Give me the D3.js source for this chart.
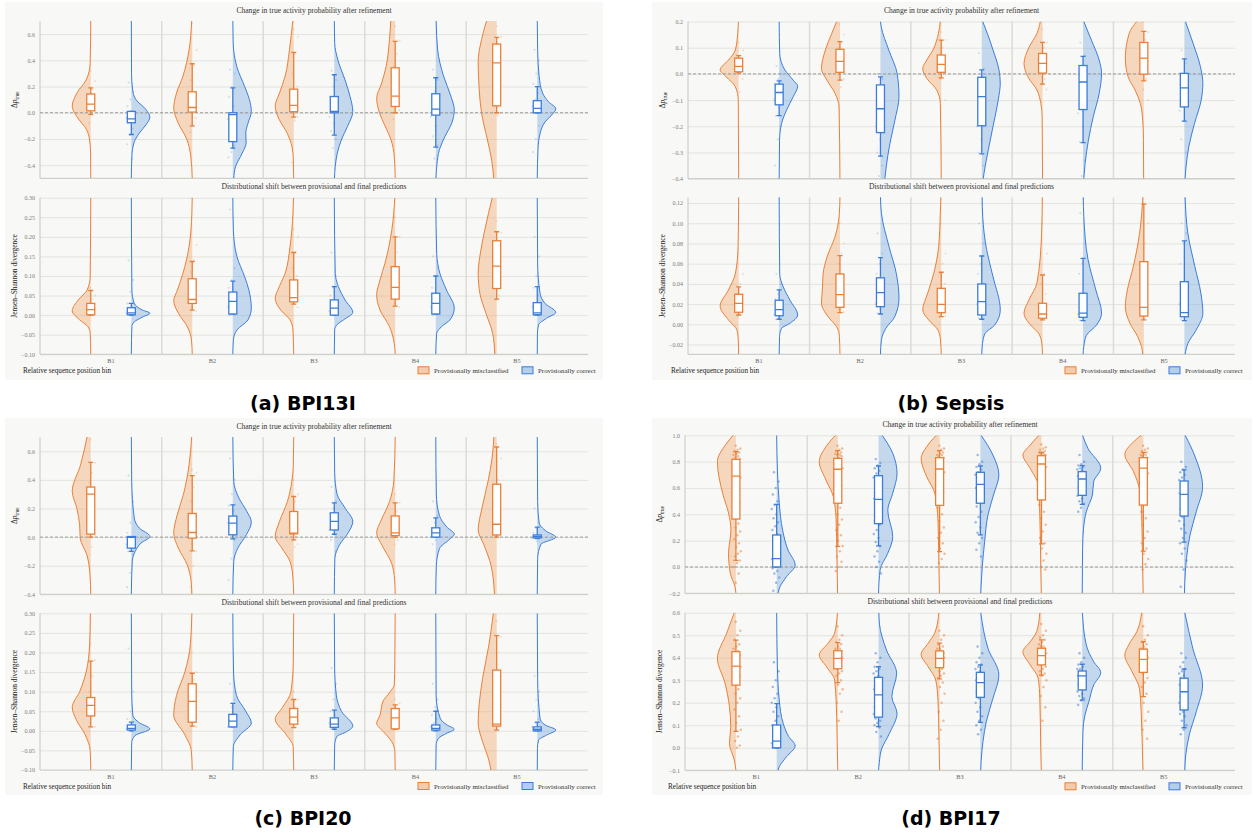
<!DOCTYPE html>
<html><head><meta charset="utf-8">
<script src="https://cdn.jsdelivr.net/npm/d3@7"></script>
<style>body{margin:0;background:#fff}svg{display:block}</style>
</head><body><script>
// ---------------- DATA ----------------
const datasets = ["BPI13I", "Sepsis", "BPI20", "BPI17"];
const bins = ["B1", "B2", "B3", "B4", "B5"];
const groups = ["Provisionally misclassified", "Provisionally correct"];
const titles = ["Change in true activity probability after refinement", "Distributional shift between provisional and final predictions"];
const xTitle = "Relative sequence position bin";

// axis domains / tick values
const a_dp_domain = [-0.5, 0.7], a_dp_ticks = [-0.4, -0.2, 0, 0.2, 0.4, 0.6];
const a_js_domain = [-0.1, 0.3], a_js_ticks = [-0.1, -0.05, 0, 0.05, 0.1, 0.15, 0.2, 0.25, 0.3];
const b_dp_domain = [-0.4, 0.2], b_dp_ticks = [-0.4, -0.3, -0.2, -0.1, 0, 0.1, 0.2];
const b_js_domain = [-0.0297, 0.1257], b_js_ticks = [-0.02, 0, 0.02, 0.04, 0.06, 0.08, 0.1, 0.12];
const c_dp_domain = [-0.4, 0.7], c_dp_ticks = [-0.4, -0.2, 0, 0.2, 0.4, 0.6];
const c_js_domain = [-0.1, 0.3], c_js_ticks = [-0.1, -0.05, 0, 0.05, 0.1, 0.15, 0.2, 0.25, 0.3];
const d_dp_domain = [-0.2, 1.0], d_dp_ticks = [-0.2, 0, 0.2, 0.4, 0.6, 0.8, 1.0];
const d_js_domain = [-0.1, 0.6], d_js_ticks = [-0.1, 0, 0.1, 0.2, 0.3, 0.4, 0.5, 0.6];

// box stats per bin: [whiskerLow, q1, median, q3, whiskerHigh]
const a_dp_box_mis = [[-0.013,0.015,0.066,0.143,0.19],[-0.10,0.005,0.04,0.16,0.374],[-0.033,0.008,0.056,0.18,0.46],[0.0,0.048,0.127,0.343,0.545],[0.0,0.053,0.38,0.524,0.575]];
const a_dp_box_cor = [[-0.166,-0.076,-0.046,0.01,0.01],[-0.27,-0.22,-0.015,0.0,0.19],[-0.17,0.0,0.01,0.124,0.29],[-0.262,-0.018,0.028,0.145,0.267],[0.0,0.0,0.033,0.092,0.2]];
const a_js_box_mis = [[0.0,0.001,0.014,0.030,0.063],[0.013,0.03,0.04,0.093,0.137],[0.028,0.034,0.045,0.09,0.16],[0.023,0.041,0.071,0.124,0.20],[0.041,0.068,0.125,0.19,0.213]];
const a_js_box_cor = [[0.0,0.001,0.006,0.019,0.03],[0.003,0.003,0.035,0.059,0.087],[0.0,0.0,0.018,0.039,0.073],[0.003,0.003,0.03,0.056,0.1],[0.0,0.001,0.006,0.032,0.073]];
const b_dp_box_mis = [[0.004,0.008,0.029,0.06,0.07],[-0.024,0.006,0.048,0.094,0.123],[-0.015,0.006,0.036,0.072,0.129],[-0.039,0.003,0.04,0.078,0.12],[-0.027,-0.001,0.06,0.12,0.162]];
const b_dp_box_cor = [[-0.159,-0.118,-0.071,-0.039,-0.027],[-0.314,-0.224,-0.133,-0.042,-0.011],[-0.305,-0.198,-0.087,-0.013,0.015],[-0.262,-0.136,-0.031,0.032,0.067],[-0.18,-0.126,-0.053,0.002,0.057]];
const b_js_box_mis = [[0.0092,0.0119,0.0208,0.0297,0.037],[0.0115,0.0168,0.0293,0.0498,0.068],[0.0075,0.0115,0.0198,0.0356,0.0515],[0.0043,0.006,0.0102,0.0208,0.0488],[0.0043,0.0082,0.0168,0.062,0.119]];
const b_js_box_cor = [[0.005,0.0085,0.0145,0.0238,0.034],[0.0102,0.0174,0.0313,0.046,0.066],[0.005,0.0092,0.0224,0.0399,0.0676],[0.0036,0.0069,0.011,0.0307,0.0653],[0.0036,0.0075,0.0115,0.0422,0.0825]];
const c_dp_box_mis = [[0.0,0.021,0.3,0.35,0.522],[-0.096,-0.007,0.032,0.165,0.43],[-0.019,0.023,0.028,0.179,0.284],[0.0,0.01,0.03,0.148,0.24],[0.0,0.015,0.09,0.37,0.63]];
const c_dp_box_cor = [[-0.1,-0.077,-0.002,0.004,0.004],[-0.012,0.016,0.098,0.147,0.226],[0.02,0.05,0.11,0.17,0.24],[0.0,0.0,0.03,0.065,0.135],[-0.01,-0.005,0.005,0.015,0.07]];
const c_js_box_mis = [[0.01,0.038,0.065,0.085,0.178],[0.012,0.022,0.075,0.12,0.147],[0.008,0.017,0.035,0.057,0.08],[0.004,0.005,0.033,0.057,0.066],[0.002,0.012,0.017,0.155,0.243]];
const c_js_box_cor = [[0.0,0.002,0.006,0.015,0.022],[0.01,0.01,0.025,0.042,0.07],[0.004,0.009,0.017,0.033,0.053],[0.0,0.002,0.006,0.015,0.05],[0.0,0.0,0.004,0.01,0.022]];
const d_dp_box_mis = [[0.05,0.364,0.69,0.818,0.875],[0.157,0.484,0.742,0.825,0.883],[0.116,0.468,0.744,0.83,0.883],[0.175,0.509,0.782,0.845,0.87],[0.12,0.47,0.75,0.83,0.87]];
const d_dp_box_cor = [[0.0,0.0,0.063,0.243,0.476],[0.16,0.329,0.514,0.693,0.767],[0.243,0.484,0.628,0.719,0.767],[0.476,0.544,0.668,0.724,0.769],[0.188,0.387,0.552,0.653,0.737]];
const d_js_box_mis = [[0.073,0.278,0.363,0.427,0.478],[0.289,0.351,0.397,0.431,0.467],[0.306,0.356,0.397,0.43,0.465],[0.323,0.368,0.409,0.442,0.479],[0.227,0.335,0.393,0.438,0.471]];
const d_js_box_cor = [[0.0,0.0,0.03,0.101,0.196],[0.094,0.136,0.235,0.313,0.36],[0.113,0.224,0.289,0.335,0.368],[0.212,0.257,0.319,0.341,0.371],[0.089,0.168,0.249,0.309,0.35]];

// violin density profiles per bin: [value, relative density (peak = 1)]
const a_dp_vio_mis = [
 [[-0.5,0],[-0.3,0.01],[-0.2,0.07],[-0.13,0.22],[-0.03,0.75],[0.05,1],[0.15,0.75],[0.25,0.25],[0.38,0.03],[0.7,0]],
 [[-0.5,0],[-0.33,0.08],[-0.2,0.3],[-0.08,0.75],[0.035,1],[0.15,0.85],[0.28,0.5],[0.48,0.17],[0.7,0.03]],
 [[-0.5,0],[-0.36,0.02],[-0.26,0.09],[-0.16,0.34],[-0.04,0.82],[0.05,1],[0.15,0.77],[0.28,0.46],[0.48,0.23],[0.7,0.05]],
 [[-0.5,0],[-0.33,0.05],[-0.2,0.24],[-0.1,0.55],[0.0,0.85],[0.11,1],[0.227,0.73],[0.353,0.49],[0.557,0.31],[0.7,0.24]],
 [[-0.5,0.16],[-0.36,0.27],[-0.2,0.51],[0.0,0.82],[0.19,0.95],[0.39,1],[0.557,0.82],[0.7,0.55]]];
const a_dp_vio_cor = [
 [[-0.5,0],[-0.33,0.03],[-0.23,0.14],[-0.155,0.43],[-0.09,0.8],[-0.033,1],[0.023,0.8],[0.1,0.25],[0.175,0.07],[0.3,0.01],[0.7,0]],
 [[-0.5,0.05],[-0.41,0.15],[-0.31,0.5],[-0.23,0.72],[-0.155,0.7],[-0.08,0.82],[0.01,1],[0.1,0.9],[0.2,0.64],[0.35,0.22],[0.53,0.02],[0.7,0]],
 [[-0.5,0.01],[-0.41,0.05],[-0.31,0.16],[-0.2,0.4],[-0.105,0.71],[0.01,1],[0.125,0.85],[0.25,0.58],[0.4,0.2],[0.53,0.02],[0.7,0]],
 [[-0.5,0.01],[-0.41,0.05],[-0.28,0.2],[-0.18,0.5],[-0.08,0.86],[0.023,1],[0.125,0.82],[0.28,0.42],[0.48,0.1],[0.7,0.02]],
 [[-0.5,0],[-0.28,0.04],[-0.16,0.15],[-0.07,0.42],[-0.017,0.78],[0.03,1],[0.085,0.6],[0.15,0.29],[0.28,0.1],[0.48,0.02],[0.7,0]]];
const a_js_vio_mis = [
 [[-0.1,0],[-0.046,0.03],[-0.029,0.16],[-0.012,0.6],[0.011,1],[0.039,0.67],[0.064,0.2],[0.098,0.03],[0.3,0]],
 [[-0.1,0],[-0.064,0.04],[-0.029,0.27],[0.005,0.75],[0.037,1],[0.064,0.8],[0.107,0.5],[0.175,0.17],[0.26,0.02],[0.3,0]],
 [[-0.1,0],[-0.038,0.04],[-0.012,0.2],[0.013,0.7],[0.043,1],[0.065,0.85],[0.107,0.46],[0.175,0.2],[0.26,0.04],[0.3,0.01]],
 [[-0.1,0],[-0.072,0.05],[-0.029,0.31],[0.013,0.82],[0.052,1],[0.09,0.82],[0.133,0.55],[0.218,0.18],[0.3,0.02]],
 [[-0.1,0.1],[-0.046,0.22],[0.005,0.58],[0.056,0.91],[0.107,1],[0.15,0.91],[0.218,0.64],[0.3,0.24]]];
const a_js_vio_cor = [
 [[-0.1,0],[-0.029,0.03],[-0.017,0.16],[-0.005,0.6],[0.005,1],[0.013,0.6],[0.03,0.16],[0.064,0.03],[0.3,0]],
 [[-0.1,0],[-0.064,0.03],[-0.038,0.22],[-0.012,0.82],[0.018,1],[0.064,0.87],[0.098,0.64],[0.15,0.22],[0.218,0.03],[0.3,0]],
 [[-0.1,0],[-0.038,0.02],[-0.025,0.13],[-0.012,0.5],[0.007,1],[0.039,0.58],[0.073,0.22],[0.107,0.05],[0.3,0]],
 [[-0.1,0],[-0.046,0.05],[-0.029,0.32],[-0.012,0.77],[0.018,1],[0.064,0.58],[0.107,0.22],[0.158,0.05],[0.3,0]],
 [[-0.1,0],[-0.046,0.01],[-0.025,0.07],[-0.008,0.5],[0.007,1],[0.03,0.42],[0.056,0.15],[0.133,0.02],[0.3,0]]];
const b_dp_vio_mis = [
 [[-0.4,0],[-0.1,0.02],[-0.049,0.18],[-0.011,0.67],[0.015,1],[0.053,0.55],[0.091,0.18],[0.155,0.05],[0.2,0.01]],
 [[-0.4,0],[-0.126,0.05],[-0.075,0.26],[-0.024,0.7],[0.02,1],[0.091,0.79],[0.155,0.44],[0.2,0.18]],
 [[-0.4,0],[-0.113,0.05],[-0.062,0.24],[-0.017,0.78],[0.02,1],[0.053,0.78],[0.091,0.45],[0.155,0.15],[0.2,0.05]],
 [[-0.4,0],[-0.164,0.02],[-0.113,0.09],[-0.062,0.3],[-0.011,0.79],[0.04,1],[0.1,0.74],[0.155,0.3],[0.2,0.12]],
 [[-0.4,0.01],[-0.25,0.02],[-0.177,0.06],[-0.113,0.19],[-0.062,0.47],[-0.011,0.85],[0.06,1],[0.155,0.79],[0.2,0.38]]];
const b_dp_vio_cor = [
 [[-0.4,0],[-0.253,0.02],[-0.189,0.13],[-0.138,0.4],[-0.087,0.76],[-0.047,1],[-0.024,0.76],[0.015,0.31],[0.078,0.03],[0.2,0]],
 [[-0.4,0.24],[-0.355,0.31],[-0.266,0.51],[-0.177,0.78],[-0.087,1],[0.002,0.9],[0.091,0.45],[0.18,0.04],[0.2,0]],
 [[-0.4,0.08],[-0.38,0.12],[-0.291,0.35],[-0.2,0.61],[-0.1,0.89],[-0.036,1],[0.015,0.93],[0.091,0.61],[0.155,0.3],[0.2,0.05]],
 [[-0.4,0.04],[-0.342,0.11],[-0.253,0.29],[-0.164,0.55],[-0.075,0.87],[0.002,1],[0.053,0.87],[0.129,0.45],[0.2,0.04]],
 [[-0.4,0.04],[-0.355,0.09],[-0.278,0.24],[-0.189,0.55],[-0.1,0.91],[-0.036,1],[0.027,0.87],[0.117,0.47],[0.2,0.06]]];
const b_js_vio_mis = [
 [[-0.03,0],[-0.0155,0.02],[-0.0056,0.09],[0.0043,0.55],[0.018,1],[0.034,0.55],[0.05,0.18],[0.077,0.03],[0.126,0]],
 [[-0.03,0],[-0.012,0.03],[-0.0024,0.18],[0.0075,0.64],[0.021,1],[0.034,0.95],[0.05,0.91],[0.067,0.69],[0.087,0.26],[0.11,0.03],[0.126,0]],
 [[-0.03,0],[-0.0155,0.04],[-0.0056,0.18],[0.0043,0.68],[0.0142,1],[0.031,0.73],[0.05,0.41],[0.077,0.14],[0.11,0.05],[0.126,0.02]],
 [[-0.03,0],[-0.019,0.04],[-0.009,0.21],[-0.0007,0.65],[0.011,1],[0.024,0.74],[0.041,0.3],[0.09,0.05],[0.126,0.01]],
 [[-0.03,0.06],[-0.025,0.09],[-0.012,0.34],[0.001,0.75],[0.0174,1],[0.034,0.89],[0.057,0.57],[0.09,0.23],[0.126,0.05]]];
const b_js_vio_cor = [
 [[-0.03,0],[-0.012,0.02],[-0.004,0.13],[0.001,0.58],[0.0092,1],[0.024,0.58],[0.037,0.22],[0.05,0.03],[0.126,0]],
 [[-0.03,0],[-0.0155,0.05],[-0.004,0.29],[0.0075,0.77],[0.0257,1],[0.05,0.86],[0.077,0.46],[0.11,0.05],[0.126,0]],
 [[-0.03,0],[-0.019,0.04],[-0.009,0.18],[-0.0007,0.7],[0.0142,1],[0.047,0.61],[0.074,0.26],[0.107,0.05],[0.126,0.02]],
 [[-0.03,0],[-0.022,0.04],[-0.011,0.18],[-0.0007,0.73],[0.011,1],[0.034,0.69],[0.064,0.27],[0.107,0.04],[0.126,0.01]],
 [[-0.03,0.04],[-0.019,0.19],[-0.0056,0.64],[0.011,1],[0.031,0.89],[0.057,0.57],[0.09,0.19],[0.126,0.04]]];
const c_dp_vio_mis = [
 [[-0.4,0],[-0.264,0.04],[-0.124,0.21],[-0.007,0.57],[0.086,0.6],[0.2,0.75],[0.32,1],[0.505,0.55],[0.7,0.2]],
 [[-0.4,0.02],[-0.31,0.06],[-0.194,0.27],[-0.077,0.75],[0.028,1],[0.156,0.81],[0.296,0.48],[0.505,0.17],[0.7,0.03]],
 [[-0.4,0],[-0.287,0.04],[-0.17,0.2],[-0.077,0.64],[0.004,1],[0.109,0.77],[0.249,0.34],[0.39,0.1],[0.505,0.02],[0.7,0]],
 [[-0.4,0],[-0.3,0.03],[-0.18,0.2],[-0.06,0.7],[0.03,1],[0.12,0.75],[0.25,0.3],[0.4,0.07],[0.7,0]],
 [[-0.4,0.12],[-0.2,0.3],[-0.05,0.7],[0.05,1],[0.2,0.8],[0.4,0.45],[0.55,0.25],[0.7,0.15]]];
const c_dp_vio_cor = [
 [[-0.4,0],[-0.17,0.05],[-0.1,0.21],[-0.042,0.52],[0.004,1],[0.063,0.43],[0.133,0.16],[0.39,0.02],[0.7,0]],
 [[-0.4,0],[-0.17,0.05],[-0.077,0.27],[0.016,0.73],[0.105,1],[0.179,0.76],[0.273,0.33],[0.39,0.05],[0.7,0]],
 [[-0.4,0],[-0.15,0.03],[-0.05,0.3],[0.03,0.75],[0.11,1],[0.2,0.6],[0.3,0.15],[0.45,0.02],[0.7,0]],
 [[-0.4,0],[-0.2,0.03],[-0.08,0.2],[-0.02,0.7],[0.02,1],[0.07,0.6],[0.15,0.2],[0.3,0.03],[0.7,0]],
 [[-0.4,0],[-0.15,0.02],[-0.05,0.2],[0.0,1],[0.04,0.5],[0.1,0.1],[0.25,0.02],[0.7,0]]];
const c_js_vio_mis = [
 [[-0.1,0],[-0.05,0.03],[-0.01,0.3],[0.03,0.8],[0.06,1],[0.1,0.6],[0.15,0.25],[0.22,0.06],[0.3,0.02]],
 [[-0.1,0],[-0.05,0.05],[-0.01,0.4],[0.04,1],[0.09,0.85],[0.15,0.4],[0.22,0.1],[0.3,0.02]],
 [[-0.1,0],[-0.04,0.03],[-0.01,0.4],[0.03,1],[0.06,0.6],[0.1,0.15],[0.18,0.02],[0.3,0]],
 [[-0.1,0],[-0.053,0.02],[-0.028,0.18],[-0.002,0.64],[0.019,1],[0.04,0.82],[0.074,0.67],[0.1,0.27],[0.117,0.05],[0.176,0.02],[0.3,0]],
 [[-0.1,0.31],[-0.07,0.45],[-0.028,0.76],[0.02,1],[0.066,0.95],[0.134,0.76],[0.219,0.42],[0.3,0.18]]];
const c_js_vio_cor = [
 [[-0.1,0],[-0.03,0.02],[-0.012,0.2],[0.005,1],[0.02,0.45],[0.04,0.08],[0.1,0.02],[0.3,0]],
 [[-0.1,0],[-0.04,0.03],[-0.01,0.4],[0.02,1],[0.05,0.7],[0.09,0.2],[0.15,0.04],[0.3,0]],
 [[-0.1,0],[-0.036,0.02],[-0.015,0.13],[-0.002,0.67],[0.012,1],[0.049,0.4],[0.091,0.11],[0.16,0.02],[0.3,0]],
 [[-0.1,0],[-0.036,0.02],[-0.019,0.15],[-0.006,0.6],[0.004,1],[0.015,0.6],[0.032,0.24],[0.091,0.02],[0.3,0]],
 [[-0.1,0],[-0.045,0.01],[-0.024,0.07],[-0.011,0.5],[0.002,1],[0.015,0.42],[0.032,0.15],[0.134,0.02],[0.3,0]]];
const d_dp_vio_mis = [
 [[-0.2,0],[-0.15,0.05],[-0.05,0.3],[0.1,0.4],[0.28,0.27],[0.41,0.4],[0.55,0.7],[0.8,1],[0.93,0.55],[1.0,0.15]],
 [[-0.2,0.01],[0.1,0.05],[0.357,0.09],[0.534,0.24],[0.66,0.64],[0.8,1],[0.913,0.64],[1.0,0.13]],
 [[-0.2,0.01],[0.1,0.05],[0.357,0.09],[0.56,0.26],[0.686,0.7],[0.825,1],[0.913,0.7],[1.0,0.18]],
 [[-0.2,0.01],[0.015,0.04],[0.395,0.09],[0.623,0.18],[0.749,0.61],[0.85,1],[0.926,0.61],[1.0,0.14]],
 [[-0.2,0.01],[0.015,0.04],[0.395,0.09],[0.572,0.18],[0.724,0.53],[0.855,1],[0.95,0.53],[1.0,0.12]]];
const d_dp_vio_cor = [
 [[-0.2,0.07],[-0.15,0.18],[-0.074,0.53],[0.015,1],[0.129,0.61],[0.28,0.32],[0.484,0.14],[0.737,0.04],[1.0,0]],
 [[-0.2,0],[-0.02,0.09],[0.104,0.5],[0.23,0.77],[0.43,0.5],[0.56,0.77],[0.71,1],[0.863,0.77],[1.0,0.2]],
 [[-0.2,0.02],[0.015,0.11],[0.192,0.23],[0.395,0.41],[0.547,0.71],[0.699,1],[0.85,0.68],[1.0,0.04]],
 [[-0.2,0],[0.142,0.02],[0.294,0.07],[0.42,0.22],[0.547,0.55],[0.648,0.62],[0.75,1],[0.9,0.31],[1.0,0.02]],
 [[-0.2,0.02],[-0.111,0.04],[0.066,0.13],[0.243,0.32],[0.42,0.66],[0.61,1],[0.85,0.56],[1.0,0.06]]];
const d_js_vio_mis = [
 [[-0.1,0],[-0.054,0.09],[0.02,0.35],[0.094,0.28],[0.183,0.35],[0.287,0.59],[0.397,1],[0.509,0.5],[0.6,0.09]],
 [[-0.1,0],[0.064,0.04],[0.212,0.09],[0.301,0.17],[0.36,0.61],[0.412,1],[0.464,0.53],[0.509,0.17],[0.6,0.02]],
 [[-0.1,0],[0.06,0.04],[0.212,0.09],[0.301,0.21],[0.36,0.62],[0.415,1],[0.464,0.62],[0.509,0.27],[0.6,0.04]],
 [[-0.1,0.01],[0.0,0.04],[0.22,0.09],[0.309,0.18],[0.368,0.61],[0.427,1],[0.471,0.61],[0.516,0.26],[0.6,0.09]],
 [[-0.1,0.02],[0.05,0.07],[0.146,0.11],[0.264,0.21],[0.338,0.61],[0.412,1],[0.457,0.79],[0.516,0.35],[0.6,0.09]]];
const d_js_vio_cor = [
 [[-0.1,0.07],[-0.084,0.14],[-0.04,0.53],[0.009,1],[0.05,0.65],[0.109,0.35],[0.212,0.14],[0.36,0.04],[0.6,0]],
 [[-0.1,0],[-0.084,0.02],[-0.01,0.15],[0.064,0.59],[0.153,1],[0.227,0.72],[0.331,0.98],[0.434,0.43],[0.55,0.05],[0.6,0.02]],
 [[-0.1,0.02],[-0.062,0.04],[0.027,0.14],[0.116,0.32],[0.22,0.68],[0.323,1],[0.442,0.41],[0.6,0.02]],
 [[-0.1,0],[0.072,0.04],[0.146,0.15],[0.205,0.36],[0.279,0.62],[0.334,1],[0.382,0.62],[0.457,0.22],[0.6,0.01]],
 [[-0.1,0.04],[-0.032,0.09],[0.057,0.28],[0.16,0.66],[0.279,1],[0.442,0.47],[0.6,0.04]]];

// individual observations (jittered points), per bin
const a_dp_pts_mis = ["0.32 0.24 0.18 0.14 0.11 0.09 0.07 0.05 0.03 0.01 -0.02 -0.08","0.68 0.48 0.36 0.25 0.16 0.1 0.05 0.03 0.01 -0.04 -0.1 -0.15","0.64 0.58 0.45 0.3 0.2 0.12 0.07 0.04 0.01 -0.03 -0.06 -0.38","0.66 0.55 0.45 0.35 0.25 0.18 0.12 0.08 0.05 0.02 0.0 -0.05","0.66 0.58 0.52 0.45 0.4 0.35 0.25 0.1 0.05 0.0 -0.02"];
const a_dp_pts_cor = ["0.23 0.16 0.1 0.05 0.01 -0.02 -0.04 -0.06 -0.08 -0.12 -0.17 -0.24 -0.35","0.33 0.3 0.2 0.12 0.05 0.0 -0.05 -0.12 -0.2 -0.25 -0.3 -0.34","0.32 0.25 0.2 0.12 0.06 0.01 -0.03 -0.08 -0.14 -0.2 -0.27","0.33 0.25 0.16 0.1 0.04 0.01 -0.03 -0.1 -0.18 -0.25 -0.35","0.48 0.4 0.3 0.22 0.15 0.1 0.05 0.02 0.0 -0.1 -0.2 -0.3"];
const a_js_pts_mis = ["0.07 0.05 0.04 0.03 0.02 0.01 0.005 0.0","0.3 0.18 0.14 0.11 0.08 0.05 0.04 0.03 0.02 0.01","0.22 0.2 0.16 0.12 0.1 0.07 0.05 0.04 0.03 0.02","0.25 0.2 0.16 0.12 0.1 0.07 0.05 0.04 0.03 0.02","0.24 0.21 0.18 0.15 0.12 0.09 0.07 0.05 0.04"];
const a_js_pts_cor = ["0.14 0.09 0.06 0.03 0.02 0.01 0.005 0.0","0.27 0.12 0.09 0.07 0.05 0.03 0.02 0.01 0.0","0.16 0.1 0.07 0.05 0.03 0.02 0.01 0.0","0.15 0.12 0.1 0.07 0.05 0.03 0.02 0.01 0.0","0.2 0.15 0.1 0.07 0.05 0.03 0.02 0.01 0.0"];
const b_dp_pts_mis = ["0.12 0.09 0.07 0.06 0.04 0.03 0.02 0.01 0.0 -0.02 -0.07","0.19 0.15 0.12 0.1 0.08 0.06 0.04 0.02 0.0 -0.02 -0.05","0.16 0.13 0.1 0.08 0.06 0.04 0.02 0.0 -0.02 -0.1","0.17 0.12 0.1 0.07 0.05 0.03 0.01 -0.02 -0.04 -0.06","0.2 0.16 0.13 0.1 0.07 0.04 0.01 -0.02 -0.06 -0.1"];
const b_dp_pts_cor = ["0.03 0.0 -0.02 -0.04 -0.06 -0.08 -0.1 -0.13 -0.16 -0.2 -0.25 -0.35","0.0 -0.02 -0.05 -0.08 -0.12 -0.16 -0.2 -0.25 -0.3 -0.35 -0.39","0.08 0.02 -0.02 -0.06 -0.1 -0.15 -0.2 -0.25 -0.3 -0.35","0.12 0.07 0.03 0.0 -0.05 -0.1 -0.15 -0.2 -0.26 -0.33 -0.39","0.09 0.04 0.0 -0.04 -0.07 -0.1 -0.14 -0.18 -0.25 -0.3"];
const b_js_pts_mis = ["0.07 0.05 0.04 0.03 0.025 0.02 0.015 0.01 0.008","0.1 0.08 0.07 0.06 0.05 0.04 0.03 0.02 0.015 0.012","0.1 0.07 0.06 0.05 0.04 0.03 0.02 0.015 0.01 0.008","0.1 0.07 0.05 0.04 0.03 0.02 0.01 0.007 0.005","0.12 0.1 0.08 0.06 0.04 0.03 0.02 0.01 0.006"];
const b_js_pts_cor = ["0.05 0.04 0.03 0.025 0.02 0.015 0.01 0.007 0.005","0.09 0.07 0.06 0.05 0.04 0.03 0.02 0.015 0.011","0.1 0.08 0.06 0.05 0.04 0.03 0.02 0.01 0.006","0.11 0.08 0.06 0.05 0.03 0.02 0.01 0.007 0.004","0.1 0.09 0.08 0.06 0.04 0.03 0.02 0.01 0.005"];
const c_dp_pts_mis = ["0.68 0.52 0.45 0.38 0.33 0.3 0.25 0.15 0.05 0.01 -0.07","0.47 0.45 0.35 0.25 0.15 0.08 0.03 0.0 -0.05 -0.1 -0.2 -0.35","0.4 0.3 0.25 0.18 0.1 0.05 0.02 0.0 -0.02 -0.05 -0.07","0.3 0.24 0.18 0.12 0.07 0.03 0.01 -0.02 -0.05","0.65 0.55 0.4 0.3 0.2 0.1 0.05 0.02 0.0"];
const c_dp_pts_cor = ["0.43 0.25 0.1 0.03 0.0 -0.02 -0.05 -0.08 -0.1 -0.12 -0.25 -0.35","0.55 0.4 0.3 0.22 0.18 0.14 0.1 0.06 0.02 -0.02 -0.15 -0.3","0.35 0.25 0.2 0.16 0.12 0.08 0.05 0.02 -0.02 -0.1","0.25 0.15 0.1 0.06 0.03 0.01 0.0 -0.02 -0.05","0.2 0.1 0.06 0.03 0.01 0.0 -0.01 -0.03"];
const c_js_pts_mis = ["0.22 0.18 0.14 0.1 0.08 0.06 0.05 0.04 0.02 0.01","0.2 0.15 0.13 0.1 0.08 0.06 0.04 0.03 0.02 0.01","0.1 0.08 0.06 0.05 0.04 0.03 0.02 0.01","0.08 0.07 0.05 0.04 0.03 0.02 0.01 0.005","0.28 0.24 0.2 0.15 0.1 0.05 0.02 0.01"];
const c_js_pts_cor = ["0.21 0.1 0.05 0.03 0.02 0.01 0.005 0.0","0.12 0.08 0.06 0.04 0.03 0.02 0.01","0.16 0.12 0.08 0.05 0.04 0.03 0.02 0.01 0.005","0.12 0.08 0.06 0.04 0.03 0.02 0.01 0.005 0.0","0.14 0.1 0.08 0.05 0.03 0.02 0.01 0.005 0.0"];
const d_dp_pts_mis = ["0.92 0.9 0.89 0.88 0.87 0.86 0.85 0.84 0.83 0.82 0.8 0.78 0.75 0.72 0.68 0.62 0.55 0.48 0.42 0.37 0.33 0.3 0.27 0.24 0.21 0.18 0.15 0.12 0.1 0.08 0.05 0.03 0.0 -0.05 -0.12","0.92 0.9 0.89 0.88 0.87 0.86 0.86 0.85 0.85 0.84 0.83 0.82 0.8 0.78 0.75 0.72 0.68 0.62 0.56 0.5 0.45 0.4 0.36 0.32 0.28 0.24 0.2 0.16 0.12 0.08 0.04 0.0 -0.03","0.92 0.9 0.89 0.88 0.87 0.86 0.85 0.85 0.84 0.83 0.82 0.8 0.78 0.75 0.72 0.68 0.63 0.57 0.5 0.45 0.4 0.35 0.3 0.26 0.22 0.18 0.14 0.1 0.06 0.03 0.0","0.93 0.91 0.9 0.89 0.88 0.87 0.87 0.86 0.86 0.85 0.84 0.83 0.81 0.79 0.76 0.72 0.67 0.6 0.53 0.47 0.42 0.37 0.32 0.27 0.22 0.18 0.14 0.1 0.05 0.0 -0.02","0.92 0.9 0.89 0.88 0.87 0.86 0.85 0.85 0.84 0.83 0.82 0.8 0.78 0.75 0.71 0.66 0.6 0.54 0.48 0.42 0.37 0.32 0.27 0.22 0.18 0.14 0.1 0.06 0.02 -0.02"];
const d_dp_pts_cor = ["0.72 0.65 0.6 0.55 0.5 0.47 0.44 0.4 0.37 0.34 0.31 0.28 0.25 0.22 0.19 0.16 0.13 0.1 0.08 0.06 0.04 0.02 0.01 0.0 -0.01 -0.03 -0.05 -0.08 -0.12 -0.18","0.82 0.79 0.77 0.75 0.73 0.71 0.68 0.65 0.62 0.58 0.55 0.52 0.49 0.45 0.42 0.38 0.35 0.32 0.28 0.25 0.22 0.19 0.16 0.12 0.08 0.04 0.0 -0.05","0.85 0.8 0.78 0.76 0.74 0.72 0.7 0.68 0.66 0.64 0.62 0.6 0.58 0.55 0.52 0.49 0.46 0.42 0.38 0.34 0.3 0.26 0.22 0.18 0.13 0.08","0.85 0.8 0.78 0.77 0.76 0.75 0.74 0.73 0.72 0.71 0.7 0.69 0.68 0.66 0.64 0.62 0.6 0.58 0.56 0.54 0.52 0.5 0.48 0.45 0.42","0.8 0.76 0.74 0.72 0.7 0.68 0.66 0.64 0.62 0.6 0.58 0.56 0.54 0.52 0.5 0.47 0.44 0.41 0.38 0.35 0.32 0.29 0.26 0.22 0.18 0.14 0.1 0.05 -0.02 -0.15"];
const d_js_pts_mis = ["0.56 0.52 0.5 0.48 0.46 0.45 0.44 0.43 0.42 0.41 0.4 0.39 0.38 0.37 0.36 0.35 0.34 0.32 0.3 0.28 0.26 0.24 0.22 0.2 0.17 0.14 0.11 0.08 0.05 0.03 0.01 0.0","0.54 0.5 0.48 0.47 0.46 0.45 0.44 0.44 0.43 0.43 0.42 0.42 0.41 0.41 0.4 0.4 0.39 0.39 0.38 0.37 0.36 0.35 0.34 0.33 0.32 0.3 0.28 0.26 0.24 0.2 0.16 0.12","0.52 0.5 0.48 0.46 0.45 0.44 0.44 0.43 0.43 0.42 0.42 0.41 0.41 0.4 0.4 0.39 0.39 0.38 0.37 0.36 0.35 0.34 0.33 0.32 0.31 0.29 0.27 0.24 0.2 0.16 0.12 0.08 0.04","0.55 0.52 0.5 0.49 0.48 0.47 0.46 0.45 0.45 0.44 0.44 0.43 0.43 0.42 0.42 0.41 0.41 0.4 0.4 0.39 0.38 0.37 0.36 0.35 0.34 0.33 0.32 0.3 0.27 0.23 0.18 0.12","0.54 0.5 0.48 0.47 0.46 0.45 0.44 0.44 0.43 0.43 0.42 0.42 0.41 0.4 0.4 0.39 0.38 0.37 0.36 0.35 0.34 0.33 0.31 0.29 0.27 0.24 0.2 0.16 0.12 0.08 0.04"];
const d_js_pts_cor = ["0.38 0.34 0.3 0.27 0.24 0.22 0.2 0.18 0.16 0.14 0.12 0.1 0.09 0.08 0.07 0.06 0.05 0.04 0.03 0.02 0.02 0.01 0.01 0.0 0.0 0.0","0.42 0.4 0.38 0.36 0.35 0.34 0.33 0.32 0.31 0.3 0.28 0.26 0.24 0.22 0.2 0.19 0.18 0.17 0.16 0.15 0.14 0.13 0.12 0.11 0.1 0.09 0.07 0.05","0.45 0.42 0.4 0.38 0.37 0.36 0.35 0.34 0.33 0.32 0.31 0.3 0.29 0.28 0.27 0.26 0.25 0.24 0.22 0.2 0.18 0.16 0.14 0.12 0.1 0.08 0.06","0.42 0.4 0.38 0.37 0.36 0.35 0.35 0.34 0.34 0.33 0.33 0.32 0.32 0.31 0.3 0.29 0.28 0.27 0.26 0.25 0.24 0.23 0.22 0.21 0.19","0.42 0.4 0.38 0.36 0.35 0.34 0.33 0.32 0.31 0.3 0.29 0.28 0.27 0.26 0.25 0.24 0.23 0.22 0.21 0.2 0.19 0.18 0.17 0.16 0.15 0.14 0.12 0.1 0.08 0.06"];

// ---------------- ASSEMBLY ----------------
const panels = [
 {id:"a", m:[{domain:a_dp_domain,ticks:a_dp_ticks,dec:1,box:[a_dp_box_mis,a_dp_box_cor],vio:[a_dp_vio_mis,a_dp_vio_cor],pts:[a_dp_pts_mis,a_dp_pts_cor]},
             {domain:a_js_domain,ticks:a_js_ticks,dec:2,box:[a_js_box_mis,a_js_box_cor],vio:[a_js_vio_mis,a_js_vio_cor],pts:[a_js_pts_mis,a_js_pts_cor]}]},
 {id:"b", m:[{domain:b_dp_domain,ticks:b_dp_ticks,dec:1,box:[b_dp_box_mis,b_dp_box_cor],vio:[b_dp_vio_mis,b_dp_vio_cor],pts:[b_dp_pts_mis,b_dp_pts_cor]},
             {domain:b_js_domain,ticks:b_js_ticks,dec:2,box:[b_js_box_mis,b_js_box_cor],vio:[b_js_vio_mis,b_js_vio_cor],pts:[b_js_pts_mis,b_js_pts_cor]}]},
 {id:"c", m:[{domain:c_dp_domain,ticks:c_dp_ticks,dec:1,box:[c_dp_box_mis,c_dp_box_cor],vio:[c_dp_vio_mis,c_dp_vio_cor],pts:[c_dp_pts_mis,c_dp_pts_cor]},
             {domain:c_js_domain,ticks:c_js_ticks,dec:2,box:[c_js_box_mis,c_js_box_cor],vio:[c_js_vio_mis,c_js_vio_cor],pts:[c_js_pts_mis,c_js_pts_cor]}]},
 {id:"d", m:[{domain:d_dp_domain,ticks:d_dp_ticks,dec:1,box:[d_dp_box_mis,d_dp_box_cor],vio:[d_dp_vio_mis,d_dp_vio_cor],pts:[d_dp_pts_mis,d_dp_pts_cor]},
             {domain:d_js_domain,ticks:d_js_ticks,dec:1,box:[d_js_box_mis,d_js_box_cor],vio:[d_js_vio_mis,d_js_vio_cor],pts:[d_js_pts_mis,d_js_pts_cor]}]}
];

// layout (pixels)
const layouts = [
 {bg:[5,2,598,378],   L:40,  R:588,  yr:[[21,178.3],[197.7,354.3]],   cap:[303,410]},
 {bg:[652,2,600,378], L:688, R:1235, yr:[[21.5,178.7],[197.3,354.3]], cap:[951,410]},
 {bg:[5,418,598,377], L:40,  R:588,  yr:[[437,594.3],[613.3,770]],    cap:[303,825]},
 {bg:[652,418,600,377],L:685,R:1235, yr:[[435.3,593.3],[612.7,770.3]],cap:[951,825]}
];

const SERIF = '"Liberation Serif","DejaVu Serif",serif';
const STROKE = ["#e8803a", "#3b7dd8"], FILL = ["#f0a060", "#6fa3e0"];
const VW = 18.5, BW = 8, CW = 5, OFF = 0.2;

const svg = d3.select("body").append("svg").attr("width",1253).attr("height",833).style("font-family",SERIF);

panels.forEach((P, pi) => {
  const Ly = layouts[pi];
  const g = svg.append("g");
  g.append("rect").attr("x",Ly.bg[0]).attr("y",Ly.bg[1]).attr("width",Ly.bg[2]).attr("height",Ly.bg[3]).attr("fill","#f8f8f6");
  const x = d3.scaleLinear().domain([0.3, 5.7]).range([Ly.L, Ly.R]);
  const cx = (Ly.L + Ly.R) / 2;

  P.m.forEach((M, k) => {
    const yr = Ly.yr[k];
    const y = d3.scaleLinear().domain(M.domain).range([yr[1], yr[0]]);
    const fmt = v => (v < -1e-9 ? "\u2212" : "") + d3.format("." + M.dec + "f")(Math.abs(v));

    const grid = g.append("g").attr("transform", `translate(${Ly.L},0)`)
      .call(d3.axisLeft(y).tickValues(M.ticks).tickSize(-(Ly.R - Ly.L)).tickFormat(""));
    grid.select(".domain").remove();
    grid.selectAll("line").attr("stroke", "#e3e3df").attr("stroke-width", 1);
    g.selectAll(null).data([1.5,2.5,3.5,4.5]).join("line")
      .attr("x1", d => x(d)).attr("x2", d => x(d)).attr("y1", yr[0]).attr("y2", yr[1])
      .attr("stroke", "#dcdbd6").attr("stroke-width", 1.5);
    g.append("line").attr("x1",Ly.L).attr("x2",Ly.L).attr("y1",yr[0]).attr("y2",yr[1]).attr("stroke","#cfcfcb").attr("stroke-width",1.2);
    g.append("line").attr("x1",Ly.L).attr("x2",Ly.R).attr("y1",yr[1]).attr("y2",yr[1]).attr("stroke","#cfcfcb").attr("stroke-width",1.2);
    const ax = g.append("g").attr("transform", `translate(${Ly.L},0)`)
      .call(d3.axisLeft(y).tickValues(M.ticks).tickFormat(fmt).tickSize(0).tickPadding(5));
    ax.select(".domain").remove();
    ax.selectAll("text").attr("font-size", 6).attr("fill", "#7d7d7d").attr("font-family", SERIF);
    g.append("text").attr("x", cx).attr("y", yr[0] - 8.5).attr("text-anchor","middle")
      .attr("font-size", 7.6).attr("fill", "#333").text(titles[k]);
    const ylab = g.append("text").attr("transform", `translate(${Ly.L - 23},${(yr[0]+yr[1])/2}) rotate(-90)`)
      .attr("text-anchor","middle").attr("font-size", 7.4).attr("fill","#222");
    if (k === 0) {
      ylab.append("tspan").text("\u0394");
      ylab.append("tspan").attr("font-style","italic").text("p");
      ylab.append("tspan").attr("font-size",5.2).attr("dy",1.8).text("true");
    } else {
      ylab.text("Jensen\u2013Shannon divergence");
    }

    const clipId = `clip-${pi}-${k}`;
    svg.append("clipPath").attr("id", clipId).append("rect")
      .attr("x", Ly.L).attr("y", yr[0]).attr("width", Ly.R - Ly.L).attr("height", yr[1] - yr[0]);
    const pg = g.append("g").attr("clip-path", `url(#${clipId})`);

    [0, 1].forEach(gi => {
      const side = gi === 0 ? -1 : 1;
      M.vio[gi].forEach((knots, bi) => {
        const base = x(bi + 1 + (gi === 0 ? -OFF : OFF));
        const kn = knots.slice().sort((a, b) => b[0] - a[0]);
        const area = d3.area().curve(d3.curveMonotoneY).y(d => y(d[0])).x0(base).x1(d => base + side * d[1] * VW);
        const line = d3.line().curve(d3.curveMonotoneY).y(d => y(d[0])).x(d => base + side * d[1] * VW);
        pg.append("path").attr("d", area(kn)).attr("fill", FILL[gi]).attr("fill-opacity", 0.38);
        pg.append("path").attr("d", line(kn)).attr("fill", "none").attr("stroke", STROKE[gi]).attr("stroke-width", 1);
      });
    });

    if (k === 0) {
      pg.append("line").attr("x1", Ly.L).attr("x2", Ly.R).attr("y1", y(0)).attr("y2", y(0))
        .attr("stroke", "#9a9a9a").attr("stroke-width", 1).attr("stroke-dasharray", "3,2");
    }

    [0, 1].forEach(gi => {
      M.pts[gi].forEach((s, bi) => {
        const base = x(bi + 1 + (gi === 0 ? -OFF : OFF));
        const vals = s.split(" ").map(Number);
        pg.selectAll(null).data(vals).join("circle")
          .attr("cx", (d, i) => base + (gi === 0 ? -2.5 : -5) + ((i * 0.6180339887 + 0.3) % 1) * 7.5)
          .attr("cy", d => y(d)).attr("r", pi === 3 ? 1.25 : 1.05)
          .attr("fill", STROKE[gi]).attr("fill-opacity", pi === 3 ? 0.5 : 0.22);
      });
    });

    [0, 1].forEach(gi => {
      M.box[gi].forEach((b, bi) => {
        const base = x(bi + 1 + (gi === 0 ? -OFF : OFF));
        const bg = pg.append("g").attr("stroke", STROKE[gi]).attr("stroke-width", 1.3).attr("fill", "none");
        bg.append("line").attr("x1", base).attr("x2", base).attr("y1", y(b[3])).attr("y2", y(b[4]));
        bg.append("line").attr("x1", base).attr("x2", base).attr("y1", y(b[1])).attr("y2", y(b[0]));
        bg.append("line").attr("x1", base - CW/2).attr("x2", base + CW/2).attr("y1", y(b[4])).attr("y2", y(b[4]));
        bg.append("line").attr("x1", base - CW/2).attr("x2", base + CW/2).attr("y1", y(b[0])).attr("y2", y(b[0]));
        bg.append("rect").attr("x", base - BW/2).attr("width", BW).attr("y", y(b[3]))
          .attr("height", Math.max(0.5, y(b[1]) - y(b[3]))).attr("fill", "#fff");
        bg.append("line").attr("x1", base - BW/2).attr("x2", base + BW/2).attr("y1", y(b[2])).attr("y2", y(b[2]));
      });
    });
  });

  const yb = Ly.yr[1][1];
  g.selectAll(null).data(bins).join("text")
    .attr("x", (d, i) => x(i + 1)).attr("y", yb + 9).attr("text-anchor", "middle")
    .attr("font-size", 6.3).attr("fill", "#666").text(d => d);
  g.append("text").attr("x", Ly.L - 17).attr("y", yb + 19).attr("font-size", 7.2).attr("fill", "#222").text(xTitle);
  const lx = [Ly.R - 170, Ly.R - 66];
  groups.forEach((name, gi) => {
    g.append("rect").attr("x", lx[gi]).attr("y", yb + 12.5).attr("width", 11).attr("height", 7)
      .attr("fill", FILL[gi]).attr("fill-opacity", 0.5).attr("stroke", STROKE[gi]).attr("stroke-width", 1);
    g.append("text").attr("x", lx[gi] + 16).attr("y", yb + 18.8).attr("font-size", 6.9).attr("fill", "#333").text(name);
  });
  g.append("text").attr("x", Ly.cap[0]).attr("y", Ly.cap[1]).attr("text-anchor", "middle")
    .attr("font-family", '"DejaVu Sans",sans-serif').attr("font-weight", "bold").attr("font-size", 19)
    .text(`(${P.id}) ${datasets[pi]}`);
});
</script></body></html>
